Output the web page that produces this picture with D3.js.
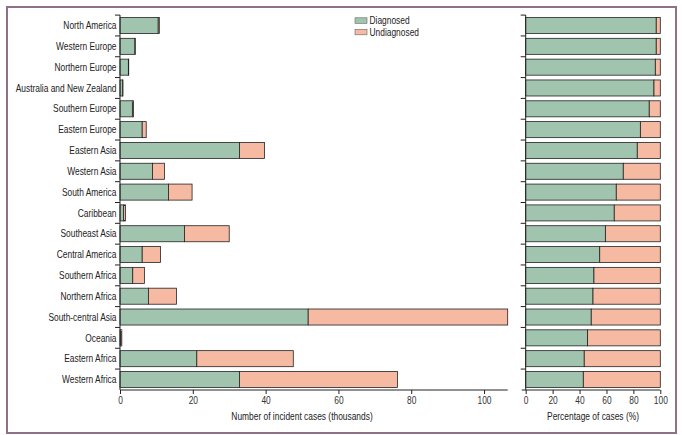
<html>
    <script src="https://d3js.org/d3.v7.min.js"></script>
    <body style="margin:0;background:#fff">
        <svg id="myPlot" width="682" height="435"></svg>
        <script>
            // Data
            const regions = ["North America", "Western Europe", "Northern Europe", "Australia and New Zealand",
                "Southern Europe", "Eastern Europe", "Eastern Asia", "Western Asia", "South America", "Caribbean",
                "Southeast Asia", "Central America", "Southern Africa", "Northern Africa", "South-central Asia",
                "Oceania", "Eastern Africa", "Western Africa"];
            // thousands of incident cases
            const diagnosed   = [10.5, 4.1, 2.3, 0.75, 3.4, 6.1, 32.8, 8.9, 13.3, 1.0, 17.7, 6.1, 3.5, 7.8, 51.7, 0.25, 21.1, 32.8];
            const undiagnosed = [0.3, 0.1, 0.1, 0.05, 0.3, 1.1, 6.9, 3.3, 6.5, 0.5, 12.3, 5.0, 3.2, 7.7, 54.8, 0.25, 26.5, 43.4];
            // percentage diagnosed
            const pctDiagnosed = [97.0, 97.0, 96.3, 95.3, 91.8, 85.2, 82.9, 72.5, 67.3, 65.8, 59.2, 55.0, 50.7, 50.0, 48.7, 46.0, 43.5, 42.8];
            const countTicks = [0, 20, 40, 60, 80, 100];
            const pctTicks = [0, 20, 40, 60, 80, 100];

            const green = "#a0c4ae";
            const salmon = "#f6b9a2";
            const font = "'Liberation Sans', sans-serif";
            const fontSize = 10.5;
            const squeeze = "scale(0.8,1)";   // the original type is condensed

            const svg = d3.select("#myPlot");

            function label(x, yPos, str, anchor, dy) {
                return svg.append("text")
                .attr("transform", "translate(" + x + "," + yPos + ") " + squeeze)
                .attr("dy", dy || 0)
                .attr("text-anchor", anchor)
                .attr("font-family", font).attr("font-size", fontSize).attr("fill", "#222")
                .text(str);
            }

            // frame
            svg.append("rect")
            .attr("x", 7).attr("y", 7).attr("width", 669).attr("height", 426)
            .attr("fill", "none").attr("stroke", "#8e7186").attr("stroke-width", 2);

            const y = d3.scaleBand()
            .domain(regions)
            .range([15, 390])
            .paddingInner(0.23)
            .paddingOuter(0.12);
            const gap = y.step() - y.bandwidth();

            const x1 = d3.scaleLinear().domain([0, 106.5]).range([120, 507.7]);
            const x2 = d3.scaleLinear().domain([0, 100]).range([525.7, 660.3]);

            const rows = regions.map((r, i) => ({ r: r, d: diagnosed[i], u: undiagnosed[i], p: pctDiagnosed[i] }));

            // Left panel bars
            const left = svg.append("g");
            left.selectAll(".diag").data(rows).enter()
            .append("rect")
            .attr("x", x1(0))
            .attr("y", d => y(d.r))
            .attr("width", d => x1(d.d) - x1(0))
            .attr("height", y.bandwidth())
            .attr("fill", green).attr("stroke", "#222").attr("stroke-width", 0.8);

            left.selectAll(".und").data(rows).enter()
            .append("rect")
            .attr("x", d => x1(d.d))
            .attr("y", d => y(d.r))
            .attr("width", d => x1(d.d + d.u) - x1(d.d))
            .attr("height", y.bandwidth())
            .attr("fill", salmon).attr("stroke", "#222").attr("stroke-width", 0.8);

            // Right panel bars
            const right = svg.append("g");
            right.selectAll(".pd").data(rows).enter()
            .append("rect")
            .attr("x", x2(0))
            .attr("y", d => y(d.r))
            .attr("width", d => x2(d.p) - x2(0))
            .attr("height", y.bandwidth())
            .attr("fill", green).attr("stroke", "#222").attr("stroke-width", 0.8);

            right.selectAll(".pu").data(rows).enter()
            .append("rect")
            .attr("x", d => x2(d.p))
            .attr("y", d => y(d.r))
            .attr("width", d => x2(100) - x2(d.p))
            .attr("height", y.bandwidth())
            .attr("fill", salmon).attr("stroke", "#222").attr("stroke-width", 0.8);

            // Y axes: ticks sit at row boundaries
            function yAxis(x0) {
                const g = svg.append("g");
                g.append("line")
                .attr("x1", x0).attr("x2", x0).attr("y1", 15).attr("y2", 390)
                .attr("stroke", "#222").attr("stroke-width", 1);
                g.selectAll("line.t").data(regions).enter()
                .append("line")
                .attr("x1", x0 - 5).attr("x2", x0)
                .attr("y1", d => y(d) - gap / 2).attr("y2", d => y(d) - gap / 2)
                .attr("stroke", "#222").attr("stroke-width", 1);
                return g;
            }
            yAxis(x1(0));
            yAxis(x2(0));

            regions.forEach(r => label(116.5, y(r) + y.bandwidth() / 2, r, "end", "0.35em"));

            // X axes
            function xAxis(scale, ticks, x0) {
                const g = svg.append("g").attr("transform", "translate(0,390)")
                .call(d3.axisBottom(scale).tickValues(ticks).tickSize(4).tickPadding(3));
                g.select(".domain").attr("d", "M" + x0 + ",0H" + scale.range()[1]).attr("stroke", "#222");
                g.selectAll(".tick line").attr("stroke", "#222");
                g.selectAll("text")
                .attr("transform", squeeze)
                .attr("font-family", font).attr("font-size", fontSize).attr("fill", "#333");
                return g;
            }
            xAxis(x1, countTicks, x1(0));
            xAxis(x2, pctTicks, x2(0) - 4);

            label(x1(50), 420, "Number of incident cases (thousands)", "middle");
            label(x2(50), 420, "Percentage of cases (%)", "middle");

            // Legend
            [["Diagnosed", green], ["Undiagnosed", salmon]].forEach((d, i) => {
                svg.append("rect")
                .attr("x", 355).attr("y", 17.8 + i * 11.5)
                .attr("width", 12).attr("height", 5.5)
                .attr("fill", d[1]).attr("stroke", "#666").attr("stroke-width", 0.6);
                label(369.5, 20.6 + i * 11.5, d[0], "start", "0.35em");
            });
        </script>
    </body>
</html>
